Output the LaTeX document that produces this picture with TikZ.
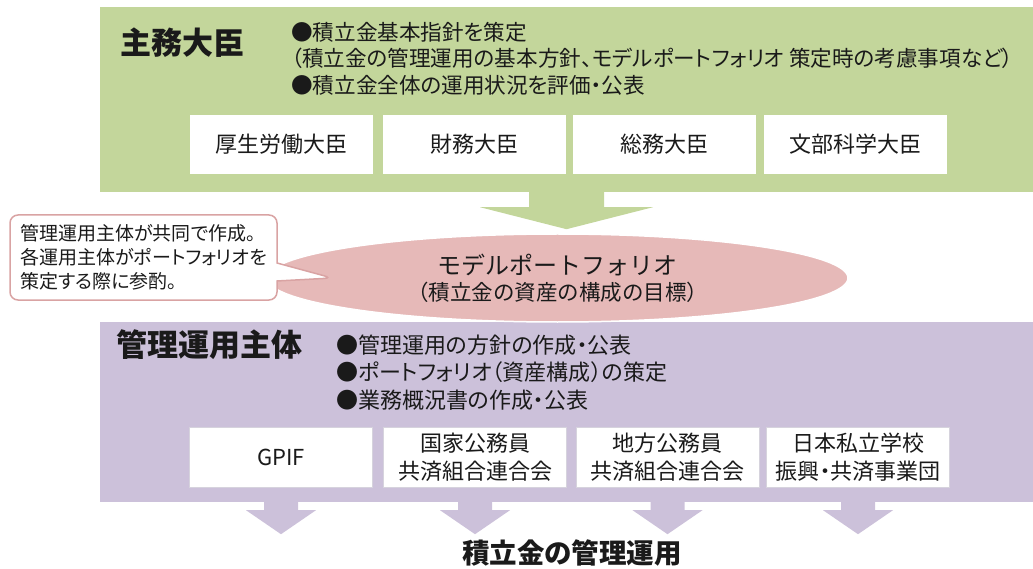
\documentclass[tikz,border=0pt]{standalone}
\usepackage{fontspec}
\setmainfont{Noto Sans CJK JP}[RawFeature=+palt]
\newfontfamily\jpfull{Noto Sans CJK JP}
\usetikzlibrary{shapes.geometric,shapes.callouts,calc}
\definecolor{grn}{HTML}{C3D69B}
\definecolor{prp}{HTML}{CCC1DA}
\definecolor{pnk}{HTML}{E6B9B8}
\definecolor{cbord}{HTML}{D9A3A3}
\definecolor{ink}{HTML}{1A1A1A}
\definecolor{pedge}{HTML}{D6D3DD}
\begin{document}
\begin{tikzpicture}[x=1pt,y=-1pt,
  panel/.style={rectangle,inner sep=0pt,minimum width=933pt},
  gwbox/.style={rectangle,fill=white,inner sep=0pt,minimum width=183pt,minimum height=59pt,align=center,font=\fontsize{22}{28}\selectfont,text=ink},
  pwbox/.style={gwbox,draw=pedge,line width=0.6pt,minimum height=60pt},
  titletext/.style={inner sep=0pt,font=\bfseries\fontsize{31}{36}\selectfont,text=ink},
  bullets/.style={inner sep=0pt,anchor=west,align=left,text=ink},
  garrow/.pic={\fill[grn] (-37.5,-1) -- (-37.5,15) -- (-86.5,15) -- (0,37) -- (86.5,15) -- (37.5,15) -- (37.5,-1) -- cycle;},
  parrow/.pic={\fill[prp] (-17,-1) -- (-17,8) -- (-35,8) -- (0,32) -- (35,8) -- (17,8) -- (17,-1) -- cycle;}
]
\useasboundingbox (0,0) rectangle (1033,569);

% top panel
\node[panel,fill=grn,minimum height=185pt] (gbox) at (566.5,99.5) {};
\node[titletext] (gtitle) at (182,43) {主務大臣};
\node[bullets,font=\fontsize{21.6}{26.5}\selectfont] (gtext) at (291,58.5)
  {●積立金基本指針を策定\\（積立金の管理運用の基本方針、モデルポートフォリオ 策定時の考慮事項など）\\●積立金全体の運用状況を評価・公表};
\node[gwbox] (m1) at (281,144.5) {厚生労働大臣};
\node[gwbox] (m2) at (474,144.5) {財務大臣};
\node[gwbox] (m3) at (664.5,144.5) {総務大臣};
\node[gwbox] (m4) at (855,144.5) {文部科学大臣};

% green arrow
\pic at (gbox.south) {garrow};

% purple panel
\node[panel,fill=prp,minimum height=180pt] (pbox) at (566.5,412) {};

% ellipse
\node[ellipse,fill=pnk,draw=white,line width=1.5pt,minimum width=581pt,minimum height=88pt,inner sep=0pt,align=center,text=ink] (ell) at (557.5,278)
  {{\jpfull\fontsize{24}{30}\selectfont モデルポートフォリオ}\\[5pt]{\jpfull\fontsize{21.5}{26}\selectfont （積立金の資産の構成の目標）}};

% callout
\coordinate (ptip) at ($(ell.west)+(66,0)$);
\node[rectangle callout,callout absolute pointer={(ptip)},callout pointer width=18pt,
  fill=white,draw=cbord,line width=1.5pt,rounded corners=8pt,
  minimum width=267pt,minimum height=85pt,inner sep=0pt,align=left,text=ink,
  font=\fontsize{19}{24}\selectfont] (note) at (143.5,257.5)
  {管理運用主体が共同で作成。\\各運用主体がポートフォリオを\\策定する際に参酌。};

% purple panel content
\node[titletext] (ptitle) at (209,345) {管理運用主体};
\node[bullets,font=\fontsize{22}{27.5}\selectfont] (ptext) at (336,372.5)
  {●管理運用の方針の作成・公表\\●ポートフォリオ（資産構成）の策定\\●業務概況書の作成・公表};
\node[pwbox] (o1) at (281,457) {GPIF};
\node[pwbox] (o2) at (475,457) {国家公務員\\共済組合連合会};
\node[pwbox] (o3) at (667.5,457) {地方公務員\\共済組合連合会};
\node[pwbox] (o4) at (858,457) {日本私立学校\\振興・共済事業団};

% purple arrows
\pic at (o1.center |- pbox.south) {parrow};
\pic at (o2.center |- pbox.south) {parrow};
\pic at (o3.center |- pbox.south) {parrow};
\pic at (o4.center |- pbox.south) {parrow};

\node[inner sep=0pt,font=\bfseries\fontsize{27.5}{32}\selectfont,text=ink] (bottom) at (572,553) {積立金の管理運用};
\end{tikzpicture}
\end{document}
